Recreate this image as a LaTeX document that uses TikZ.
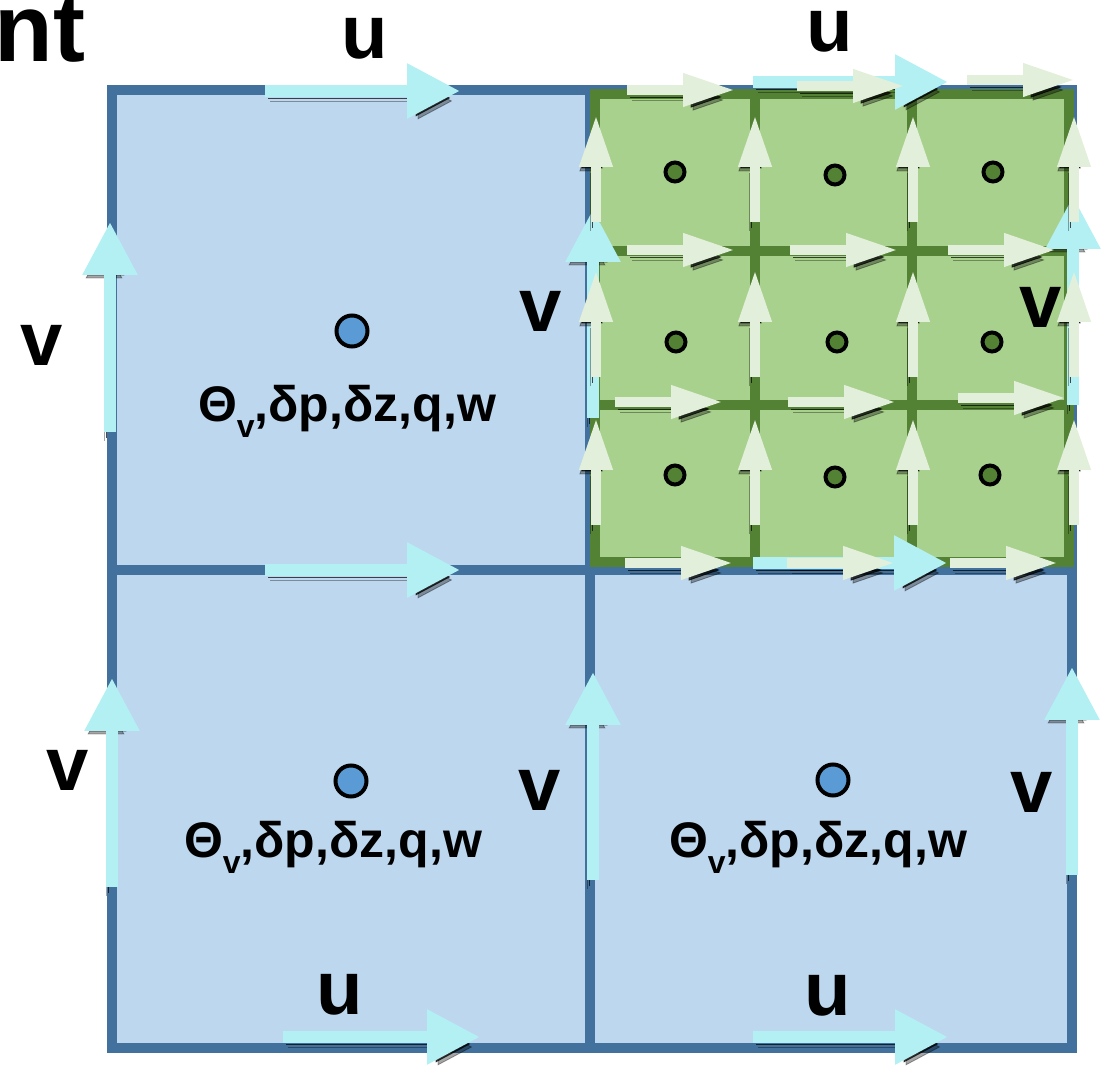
\documentclass[tikz,border=0pt]{standalone}
\usepackage{fontspec}
\setmainfont{Liberation Sans}
\usetikzlibrary{arrows.meta}

\definecolor{cellblue}{HTML}{BDD7EE}
\definecolor{edgeblue}{HTML}{41719C}
\definecolor{dotblue}{HTML}{5B9BD5}
\definecolor{cellgreen}{HTML}{A9D18E}
\definecolor{edgegreen}{HTML}{548235}
\definecolor{fluxcyan}{HTML}{B3F0F3}
\definecolor{fluxgreen}{HTML}{E2EFDA}

\newcommand{\fieldlist}{Θ\raisebox{-0.32em}{\fontsize{16}{16}\selectfont v},δp,δz,q,w}

\begin{document}
\begin{tikzpicture}[x=0.5pt,y=-0.5pt,
lbl/.style={font=\fontsize{38}{38}\selectfont\bfseries,inner sep=0pt,anchor=base},
fields/.style={font=\fontsize{25}{25}\selectfont\bfseries,inner sep=0pt,anchor=base},
coarsedot/.style={circle,draw=black,line width=2pt,fill=dotblue,minimum size=15.5pt,inner sep=0pt},
finedot/.style={circle,draw=black,line width=2pt,fill=edgegreen,minimum size=9.5pt,inner sep=0pt},
hshade/.style={preaction={draw=black,opacity=.35,transform canvas={shift={(2.5pt,-5pt)}}},
  preaction={draw=black,opacity=.7,transform canvas={shift={(1.5pt,-3.5pt)}}}},
vshade/.style={preaction={draw=black,opacity=.35,transform canvas={shift={(-3pt,-4.5pt)}}},
  preaction={draw=black,opacity=.7,transform canvas={shift={(-2pt,-3pt)}}}},
coarseflux/.style={draw=fluxcyan,line width=6pt,-{Triangle[length=26.5pt,width=26pt]}},
fineflux/.style={draw=fluxgreen,line width=5pt,-{Triangle[length=26pt,width=15.5pt]}} ]

\useasboundingbox (0,0) rectangle (1105,1074);

% coarse grid
\draw[fill=cellblue,draw=edgeblue,line width=5pt] (112,90) rectangle (1072,1048);
\draw[edgeblue,line width=5pt] (590,90) -- (590,1048) (112,570) -- (1072,570);

% refined quarter
\draw[fill=cellgreen,draw=edgegreen,line width=5pt] (595,94) rectangle (1069,562);
\foreach \gx in {755,912}
  \draw[edgegreen,line width=5pt] (\gx,94) -- (\gx,562);
\foreach \gy in {251,405}
  \draw[edgegreen,line width=5pt] (595,\gy) -- (1069,\gy);

% coarse u and v
\draw[coarseflux,hshade] (265,91) -- (460,91);
\draw[coarseflux,hshade] (753,82) -- (948,82);
\draw[coarseflux,hshade] (265,570) -- (460,570);
\draw[coarseflux,hshade] (753,563) -- (947,563);
\draw[coarseflux,hshade] (283,1037) -- (480,1037);
\draw[coarseflux,hshade] (753,1037) -- (948,1037);

\draw[coarseflux,vshade] (110,432) -- (110,222);
\draw[coarseflux,vshade] (112,887) -- (112,678);
\draw[coarseflux,vshade] (593,418) -- (593,209);
\draw[coarseflux,vshade] (593,880) -- (593,672);
\draw[coarseflux,vshade] (1073,405) -- (1073,196);
\draw[coarseflux,vshade] (1072,875) -- (1072,667);

% fine u and v
\foreach \ax/\ay in {627/90,797/86,967/80,627/250,790/250,948/250,
  615/402,788/402,958/398,625/563,787/563,950/563}
  \draw[fineflux,hshade] (\ax,\ay) -- (\ax+108,\ay);
\foreach \ax in {596,755,913,1074}
  \foreach \ay in {222,377,525}
    \draw[fineflux,vshade] (\ax,\ay) -- (\ax,\ay-107);

% cell centres
\node[coarsedot] (cTL) at (352,331) {};
\node[coarsedot] (cBL) at (351,781) {};
\node[coarsedot] (cBR) at (833,780) {};
\foreach \i/\cx/\cy in {1/675/172,2/835/175,3/993/172,4/676/342,5/837/342,
  6/992/342,7/675/475,8/835/477,9/990/475}
  \node[finedot] (f\i) at (\cx,\cy) {};

\node[fields] (varTL) at (347,422) {\fieldlist};
\node[fields] (varBL) at (333,858) {\fieldlist};
\node[fields] (varBR) at (818,858) {\fieldlist};

% labels
\node[lbl,font=\fontsize{48}{48}\selectfont\bfseries,anchor=base east] (title) at (86,62) {nt};
\node[lbl] (uTL) at (365,59) {u};
\node[lbl] (uTR) at (830,52) {u};
\node[lbl] (uBL) at (340,1015) {u};
\node[lbl] (uBR) at (828,1016) {u};
\node[lbl] (vL1) at (42,366) {v};
\node[lbl] (vL2) at (68,791) {v};
\node[lbl] (vM1) at (541,332) {v};
\node[lbl] (vM2) at (540,811) {v};
\node[lbl] (vR1) at (1041,328) {v};
\node[lbl] (vR2) at (1032,813) {v};
\end{tikzpicture}
\end{document}
